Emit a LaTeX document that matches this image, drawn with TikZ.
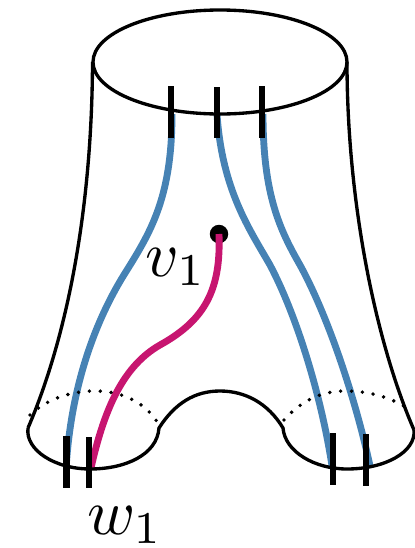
\documentclass[tikz,border=0pt]{standalone}
\usepackage{amsmath, amssymb}
\definecolor{strandblue}{RGB}{70,130,180}
\definecolor{strandpink}{RGB}{199,21,112}
\tikzset{
  outline/.style={black, line width=1.9pt},
  seam/.style={black, line width=2.2pt, dash pattern=on 0pt off 6.2pt, line cap=round},
  strand/.style={line width=3.9pt, strandblue},
  pinkstrand/.style={line width=3.9pt, strandpink},
  tick/.style={black, line width=3.9pt},
  biglabel/.style={scale=3.7, inner sep=0pt}
}
\begin{document}
\begin{tikzpicture}[x=0.02cm, y=-0.02cm]
  \useasboundingbox (0,0) rectangle (415,548);
  % strand end points
  \coordinate (t1) at (172,114); \coordinate (t2) at (217,114); \coordinate (t3) at (263,114);
  \coordinate (b1) at (66.5,462); \coordinate (b2) at (332,466); \coordinate (b3) at (370,466);
  \coordinate (b4) at (91,468);
  % strands
  \draw[strand] (t1) .. controls (172,195) and (152,230) .. (127,270)
    .. controls (95,320) and (72,385) .. (b1);
  \draw[strand] (t2) .. controls (222,190) and (250,230) .. (270,265)
    .. controls (298,318) and (322,400) .. (b2);
  \draw[strand] (t3) .. controls (263,195) and (280,230) .. (300,265)
    .. controls (330,320) and (357,405) .. (b3);
  % marked point and its arc
  \node[circle, fill, inner sep=0pt, minimum size=0.37cm] (pt) at (219,234) {};
  \draw[pinkstrand] (pt.center) .. controls (221,290) and (205,320) .. (160,345)
    .. controls (125,365) and (105,405) .. (b4);
  % top circle
  \draw[outline] (220,62) ellipse (127 and 52);
  % sides
  \draw[outline] (92.5,62) .. controls (92,200) and (70,330) .. (28,428);
  \draw[outline] (347,62) .. controls (347,200) and (375,340) .. (414,430);
  % bottom boundary
  \draw[outline] (28,428) .. controls (25,450) and (55,469) .. (90,469)
    .. controls (125,469) and (157,455) .. (159,428)
    .. controls (175,403) and (195,391) .. (220,391)
    .. controls (245,391) and (268,403) .. (283,428)
    .. controls (285,452) and (315,469) .. (347,469)
    .. controls (385,469) and (416,452) .. (414,430);
  % hidden parts
  \draw[seam] (30,415) .. controls (45,400) and (70,391) .. (95,391)
    .. controls (125,391) and (148,405) .. (159,425);
  \draw[seam] (284,420) .. controls (300,402) and (320,391) .. (345,391)
    .. controls (370,391) and (395,398) .. (412,412);
  % ticks
  \foreach \xpos/\ya/\yb in {171/86/138, 217/87/138, 262/86/138, 66.5/436/488, 89/437/488, 333/433/485, 366/434/486}
    \draw[tick] (\xpos,\ya) -- (\xpos,\yb);
  % labels
  \node[biglabel] (vlab) at (176,267) {$v_1$};
  \node[biglabel] (wlab) at (125,525) {$w_1$};
\end{tikzpicture}
\end{document}
